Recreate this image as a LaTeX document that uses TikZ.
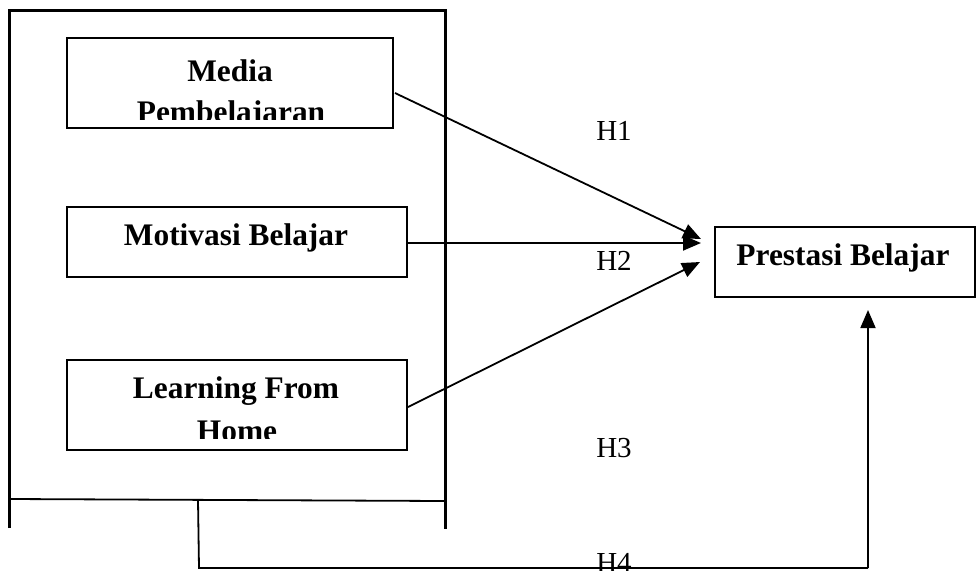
\documentclass[tikz,border=0pt]{standalone}
\usepackage{fontspec}
\setmainfont{Liberation Serif}
\usetikzlibrary{arrows.meta}
\begin{document}
\begin{tikzpicture}[x=0.5pt,y=-0.5pt,
  varbox/.style={draw,line width=1pt,rectangle,inner sep=0pt},
  vartext/.style={font=\fontsize{15.7}{18}\selectfont\bfseries,anchor=base,inner sep=0pt},
  hlabel/.style={font=\fontsize{14.5}{17}\selectfont,anchor=base,inner sep=0pt},
  outer/.style={line width=1.5pt},
  conn/.style={line width=0.9pt,-{Triangle[length=9pt,width=7.5pt]}},
  plain/.style={line width=0.9pt}]
\useasboundingbox (0,0) rectangle (976,570);
% outer frame
\draw[outer] (9,528) -- (9,10) -- (445,10) -- (445,529);
\draw[plain] (11,499) -- (445,501);
% boxes
\node[varbox,minimum width=163pt,minimum height=45pt] (media) at (230,83) {};
\node[varbox,minimum width=170pt,minimum height=35pt] (motiv) at (237,242) {};
\node[varbox,minimum width=170pt,minimum height=45pt] (lfh) at (237,405) {};
\node[varbox,minimum width=130pt,minimum height=35pt] (pres) at (845,262) {};
% texts
\node[vartext] (mediat1) at (230,81) {Media};
\begin{scope}
  \clip (60,90) rectangle (400,119);
  \node[vartext] (mediat2) at (231,122) {Pembelajaran};
\end{scope}
\node[vartext] (motivt) at (236,245) {Motivasi Belajar};
\node[vartext] (lfht1) at (236,398) {Learning From};
\begin{scope}
  \clip (60,410) rectangle (410,438);
  \node[vartext] (lfht2) at (237,441) {Home};
\end{scope}
\node[vartext] (prest) at (843,265) {Prestasi Belajar};
% labels
\node[hlabel] (h1) at (614,140) {H1};
\node[hlabel] (h2) at (614,270) {H2};
\node[hlabel] (h3) at (614,457) {H3};
\node[hlabel] (h4) at (614,572) {H4};
% connectors
\coordinate (m0) at (395,93);
\coordinate (l0) at (408,407);
\coordinate (t1) at (701,239);
\coordinate (t2) at (701,243);
\coordinate (t3) at (700,262);
\draw[conn] (m0) -- (t1);
\draw[conn] (motiv.east) ++(0,1) -- (t2);
\draw[conn] (l0) -- (t3);
\coordinate (b0) at (198,500);
\coordinate (b1) at (199,568);
\coordinate (b2) at (868,568);
\coordinate (b3) at (868,310);
\draw[plain] (b0) -- (b1) -- (b2);
\draw[conn] (b2) -- (b3);
\end{tikzpicture}
\end{document}
